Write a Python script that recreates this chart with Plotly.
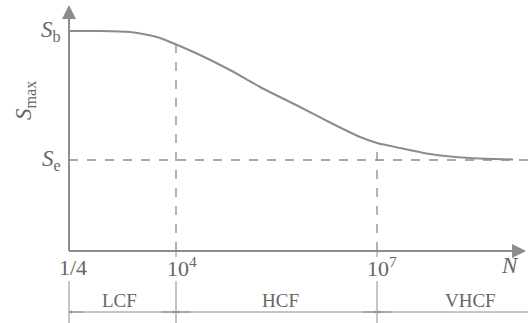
import plotly.graph_objects as go

# Schematic S-N curve (x: schematic position, y: S level)
curve_x = [0, 3.1, 6.1, 7.4, 9.1, 10.6, 13.1, 16.1, 19.1, 23.1, 26.4, 29.1, 30.8, 33.1, 36.1, 40.1, 44.4]
curve_y = [22.0, 22.0, 21.9, 21.7, 21.3, 20.7, 19.6, 18.1, 16.4, 14.4, 12.7, 11.4, 10.8, 10.3, 9.7, 9.3, 9.15]

tick_pos = [0, 10.7, 30.8]
tick_labels = ["1/4", "10<sup>4</sup>", "10<sup>7</sup>"]
region_labels = ["LCF", "HCF", "VHCF"]
region_bounds = [0, 10.7, 30.8, 46.0]
S_b = 22.0
S_e = 9.1
x_end = 45.9

LINE = "#8c8c8c"
TXT = "#666666"
FONT = "Liberation Serif"

fig = go.Figure()
fig.add_trace(go.Scatter(x=curve_x, y=curve_y, mode="lines",
                         line=dict(color=LINE, width=2, shape="spline", smoothing=0.6),
                         hoverinfo="skip", showlegend=False))

shapes = []
shapes.append(dict(type="line", xref="x", yref="y", x0=0, x1=x_end, y0=S_e, y1=S_e,
                   line=dict(color=LINE, width=1.3, dash="dash")))
for xv, yv in [(tick_pos[1], 20.7), (tick_pos[2], 10.8)]:
    shapes.append(dict(type="line", xref="x", yref="y", x0=xv, x1=xv, y0=0, y1=yv,
                       line=dict(color=LINE, width=1.3, dash="dash")))
for xv in tick_pos:
    shapes.append(dict(type="line", xref="x", yref="y", x0=xv, x1=xv, y0=-3.0, y1=-7.2,
                       line=dict(color=LINE, width=1)))
for xv in tick_pos[1:]:
    shapes.append(dict(type="line", xref="x", yref="y", x0=xv, x1=xv, y0=0, y1=-0.6,
                       line=dict(color=LINE, width=1)))
shapes.append(dict(type="line", xref="x", yref="y", x0=0, x1=46, y0=-6.1, y1=-6.1,
                   line=dict(color=LINE, width=1)))
shapes.append(dict(type="line", xref="x", yref="y", x0=0, x1=0, y0=0, y1=23.5, line=dict(color=LINE, width=2)))
shapes.append(dict(type="line", xref="x", yref="y", x0=0, x1=44.5, y0=0, y1=0, line=dict(color=LINE, width=2)))
fig.update_layout(shapes=shapes)

ann = []
ann.append(dict(x=0, y=24.6, ax=0, ay=20, xref="x", yref="y", axref="x", ayref="y",
                showarrow=True, arrowhead=2, arrowsize=1.4, arrowwidth=2, arrowcolor=LINE, text=""))
ann.append(dict(x=45.7, y=0, ax=40, ay=0, xref="x", yref="y", axref="x", ayref="y",
                showarrow=True, arrowhead=2, arrowsize=1.4, arrowwidth=2, arrowcolor=LINE, text=""))
for i in range(3):
    a, b = region_bounds[i], region_bounds[i + 1]
    ann.append(dict(x=a, y=-6.1, ax=a + 1.6, ay=-6.1, xref="x", yref="y", axref="x", ayref="y",
                    showarrow=True, arrowhead=2, arrowsize=0.6, arrowwidth=1, arrowcolor=LINE, text=""))
    if i < 2:
        ann.append(dict(x=b, y=-6.1, ax=b - 1.6, ay=-6.1, xref="x", yref="y", axref="x", ayref="y",
                        showarrow=True, arrowhead=2, arrowsize=0.6, arrowwidth=1, arrowcolor=LINE, text=""))
tick_dx = [0.4, 0.6, 0.5]
for xv, lab, dx in zip(tick_pos, tick_labels, tick_dx):
    ann.append(dict(x=xv + dx, y=-1.6, xref="x", yref="y", text=lab, showarrow=False,
                    font=dict(family=FONT, size=22, color=TXT)))
ann.append(dict(x=44.1, y=-1.4, xref="x", yref="y", text="<i>N</i>", showarrow=False,
                font=dict(family=FONT, size=23, color=TXT)))
region_x = [5.0, 21.1, 40.1]
for xv, lab in zip(region_x, region_labels):
    ann.append(dict(x=xv, y=-4.9, xref="x", yref="y", text=lab, showarrow=False,
                    font=dict(family=FONT, size=19, color=TXT)))
ann.append(dict(x=-0.6, y=S_b, xref="x", yref="y", text="<i>S</i><sub>b</sub>", showarrow=False,
                xanchor="right", font=dict(family=FONT, size=23, color=TXT)))
ann.append(dict(x=-0.6, y=S_e, xref="x", yref="y", text="<i>S</i><sub>e</sub>", showarrow=False,
                xanchor="right", font=dict(family=FONT, size=23, color=TXT)))
ann.append(dict(x=-4.4, y=15.0, xref="x", yref="y", text="<i>S</i><sub>max</sub>", showarrow=False,
                textangle=-90, font=dict(family=FONT, size=23, color=TXT)))
fig.update_layout(annotations=ann)

fig.update_layout(
    width=528, height=323,
    margin=dict(l=0, r=0, t=0, b=0),
    paper_bgcolor="white", plot_bgcolor="white",
    xaxis=dict(range=[-6.9, 45.9], visible=False, fixedrange=True),
    yaxis=dict(range=[-7.2, 25.1], visible=False, fixedrange=True),
    showlegend=False,
)

fig.write_html("out.html", config={"displayModeBar": False},
               post_script="document.body.style.margin='0';document.body.style.overflow='hidden';")
